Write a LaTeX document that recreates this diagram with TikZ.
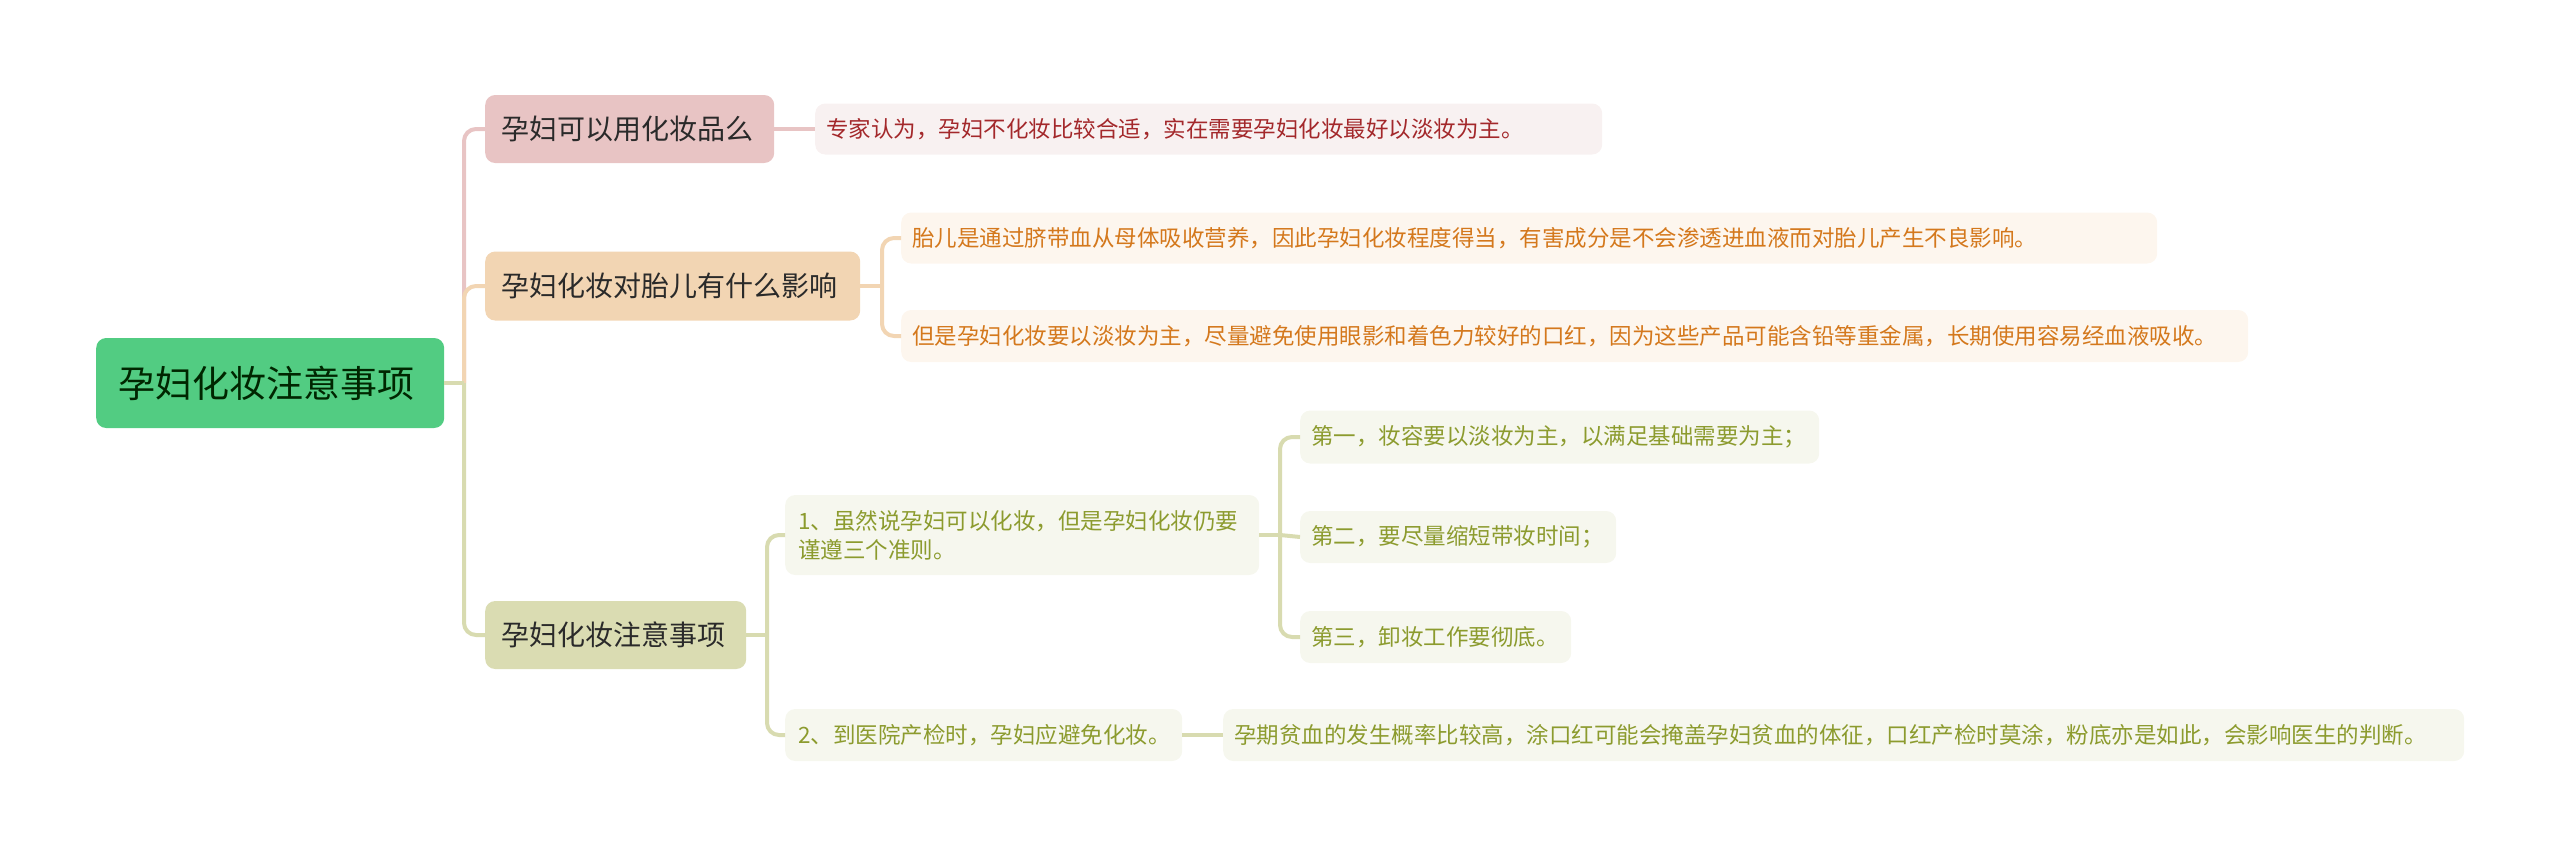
\documentclass[tikz,border=0pt]{standalone}
\usepackage{fontspec}
\setmainfont{Noto Sans CJK SC}
\definecolor{rootfill}{HTML}{52CC82}
\definecolor{rootline}{HTML}{D8DBB0}
\definecolor{pinkfill}{HTML}{E8C4C4}
\definecolor{pinkleaf}{HTML}{F8F1F1}
\definecolor{pinktext}{HTML}{A3282B}
\definecolor{tanfill}{HTML}{F2D5B3}
\definecolor{tanleaf}{HTML}{FDF6EE}
\definecolor{tantext}{HTML}{D4781C}
\definecolor{olivefill}{HTML}{DADCB2}
\definecolor{oliveleaf}{HTML}{F6F7EE}
\definecolor{olivetext}{HTML}{8C9B2E}
\definecolor{darktext}{HTML}{2A2A2A}
\tikzset{
  box/.style={anchor=west, rounded corners=10pt, inner ysep=0pt, align=left, draw=none},
  rootbox/.style={box, fill=rootfill, text=black!85!green, inner xsep=22pt, minimum height=90pt, font=\fontsize{37}{44}\selectfont},
  branchbox/.style={box, inner xsep=16pt, minimum height=68pt, text=darktext, font=\fontsize{28}{34}\selectfont},
  leafbox/.style={box, inner xsep=11pt, minimum height=52pt, font=\fontsize{22.5}{29}\selectfont},
  conn/.style={line width=4pt, rounded corners=12pt},
  pinkconn/.style={conn, draw=pinkfill},
  tanconn/.style={conn, draw=tanfill},
  oliveconn/.style={conn, draw=rootline},
}
\begin{document}
\begin{tikzpicture}[x=1pt, y=-1pt]
\useasboundingbox (0,0) rectangle (2560,857);
% nodes
\node[rootbox, text width=304pt] (root) at (96,383) {孕妇化妆注意事项};
\node[branchbox, fill=pinkfill, text width=257pt] (b1) at (485,129) {孕妇可以用化妆品么};
\node[branchbox, fill=tanfill, text width=343pt, minimum height=69pt] (b2) at (485,286) {孕妇化妆对胎儿有什么影响};
\node[branchbox, fill=olivefill, text width=229pt] (b3) at (485,635) {孕妇化妆注意事项};
\node[leafbox, fill=pinkleaf, text=pinktext, text width=765pt, minimum height=51pt] (l1) at (815,129) {专家认为，孕妇不化妆比较合适，实在需要孕妇化妆最好以淡妆为主。};
\node[leafbox, fill=tanleaf, text=tantext, text width=1234pt, minimum height=51pt] (l2a) at (901,238) {胎儿是通过脐带血从母体吸收营养，因此孕妇化妆程度得当，有害成分是不会渗透进血液而对胎儿产生不良影响。};
\node[leafbox, fill=tanleaf, text=tantext, text width=1325pt] (l2b) at (901,336) {但是孕妇化妆要以淡妆为主，尽量避免使用眼影和着色力较好的口红，因为这些产品可能含铅等重金属，长期使用容易经血液吸收。};
\node[leafbox, fill=oliveleaf, text=olivetext, inner xsep=13pt, text width=448pt, minimum height=80pt] (s1) at (785,535) {1、虽然说孕妇可以化妆，但是孕妇化妆仍要\\谨遵三个准则。};
\node[leafbox, fill=oliveleaf, text=olivetext, inner xsep=13pt, text width=371pt] (s2) at (785,735) {2、到医院产检时，孕妇应避免化妆。};
\node[leafbox, fill=oliveleaf, text=olivetext, text width=497pt, minimum height=53pt] (t1) at (1300,437) {第一，妆容要以淡妆为主，以满足基础需要为主；};
\node[leafbox, fill=oliveleaf, text=olivetext, text width=294pt] (t2) at (1300,537) {第二，要尽量缩短带妆时间；};
\node[leafbox, fill=oliveleaf, text=olivetext, text width=249pt] (t3) at (1300,637) {第三，卸妆工作要彻底。};
\node[leafbox, fill=oliveleaf, text=olivetext, text width=1219pt] (u1) at (1223,735) {孕期贫血的发生概率比较高，涂口红可能会掩盖孕妇贫血的体征，口红产检时莫涂，粉底亦是如此，会影响医生的判断。};
% junction coordinates
\coordinate (jr) at (464,383);
\coordinate (j2) at (882,286);
\coordinate (j3) at (767,635);
\coordinate (js) at (1280,535);
% connectors
\begin{scope}[on background layer/.try]
\end{scope}
\draw[pinkconn] (jr) |- (b1.west);
\draw[tanconn] (jr) |- (b2.west);
\draw[oliveconn] (jr) |- (b3.west);
\draw[oliveconn] (root.east) -- (jr);
\draw[pinkconn] (b1.east) -- (l1.west);
\draw[tanconn] (b2.east) -- (j2);
\draw[tanconn] (j2) |- (l2a.west);
\draw[tanconn] (j2) |- (l2b.west);
\draw[oliveconn] (b3.east) -- (j3);
\draw[oliveconn] (j3) |- (s1.west);
\draw[oliveconn] (j3) |- (s2.west);
\draw[oliveconn] (s1.east) -- (js);
\draw[oliveconn] (js) |- (t1.west);
\draw[oliveconn] (js) -- (t2.west);
\draw[oliveconn] (js) |- (t3.west);
\draw[oliveconn] (s2.east) -- (u1.west);
\end{tikzpicture}
\end{document}
